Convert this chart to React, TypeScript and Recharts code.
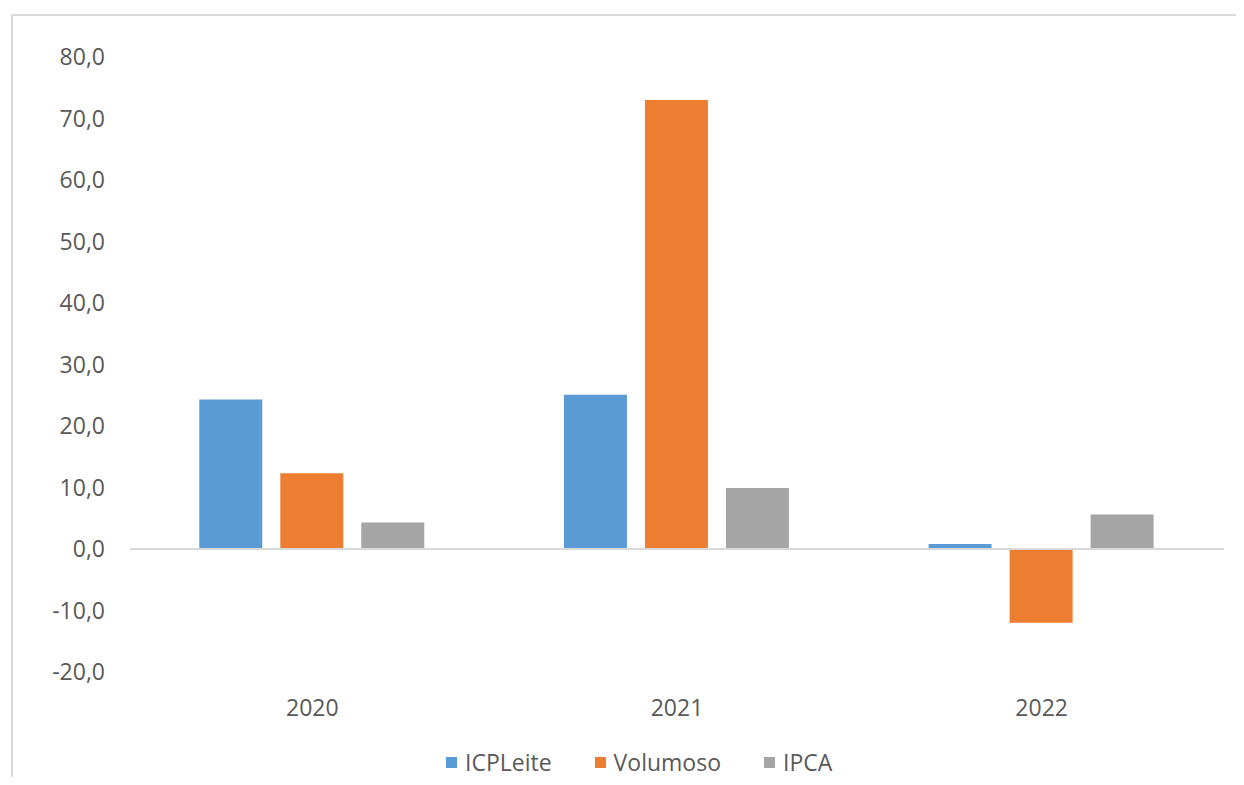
import React from 'react';
import { BarChart, Bar, XAxis, YAxis, ReferenceLine, Legend } from 'recharts';

const categories = ['2020', '2021', '2022'];
const icpLeite = [24.3, 25.1, 0.8];
const volumoso = [12.3, 73.0, -12.0];
const ipca = [4.3, 9.9, 5.6];
const yTicks = [-20, -10, 0, 10, 20, 30, 40, 50, 60, 70, 80];

const seriesNames = ['ICPLeite', 'Volumoso', 'IPCA'];
const seriesColors = ['#5B9BD5', '#ED7D31', '#A5A5A5'];

const data = categories.map((c, i) => ({
  year: c,
  ICPLeite: icpLeite[i],
  Volumoso: volumoso[i],
  IPCA: ipca[i],
}));

const FONT = '"Open Sans", sans-serif';

const fmt = (v: number) => v.toFixed(1).replace('.', ',');

const LegendContent = () => (
  <div style={{ display: 'flex', alignItems: 'center', fontFamily: FONT, fontSize: 23, color: '#595959' }}>
    {seriesNames.map((n, i) => (
      <div key={n} style={{ display: 'flex', alignItems: 'center', marginRight: i < 2 ? 43 : 0 }}>
        <span style={{ display: 'inline-block', width: 11, height: 11, background: seriesColors[i], marginRight: 8 }} />
        <span>{n}</span>
      </div>
    ))}
  </div>
);

export default function App() {
  return (
    <div style={{ position: 'relative', width: 1244, height: 785, margin: -8, background: '#fff', overflow: 'hidden' }}>
      <div style={{ position: 'absolute', left: 11, top: 14, width: 1300, height: 800, borderLeft: '2px solid #d9d9d9', borderTop: '2px solid #d9d9d9' }} />
      <div style={{ position: 'absolute', left: 0, top: 0 }}>
        <BarChart
          width={1244}
          height={785}
          data={data}
          margin={{ top: 57, right: 20, left: 0, bottom: 73 }}
          barCategoryGap="19%"
          barGap={18}
        >
          <XAxis
            dataKey="year"
            height={40}
            axisLine={false}
            tickLine={false}
            tickSize={0}
            tickMargin={28}
            tick={{ fill: '#595959', fontSize: 23, fontFamily: FONT }}
          />
          <YAxis
            width={130}
            domain={[-20, 80]}
            ticks={yTicks}
            interval={0}
            axisLine={false}
            tickLine={false}
            tickSize={0}
            tickMargin={25}
            tickFormatter={fmt}
            tick={{ fill: '#595959', fontSize: 23, fontFamily: FONT }}
          />
          <ReferenceLine y={0} stroke="#d9d9d9" strokeWidth={2} />
          {seriesNames.map((n, i) => (
            <Bar key={n} dataKey={n} fill={seriesColors[i]} isAnimationActive={false} />
          ))}
          <Legend
            layout="horizontal"
            verticalAlign="middle"
            align="center"
            content={<LegendContent />}
            wrapperStyle={{ position: 'absolute', left: 446, top: 746, width: 'auto' }}
          />
        </BarChart>
      </div>
    </div>
  );
}
